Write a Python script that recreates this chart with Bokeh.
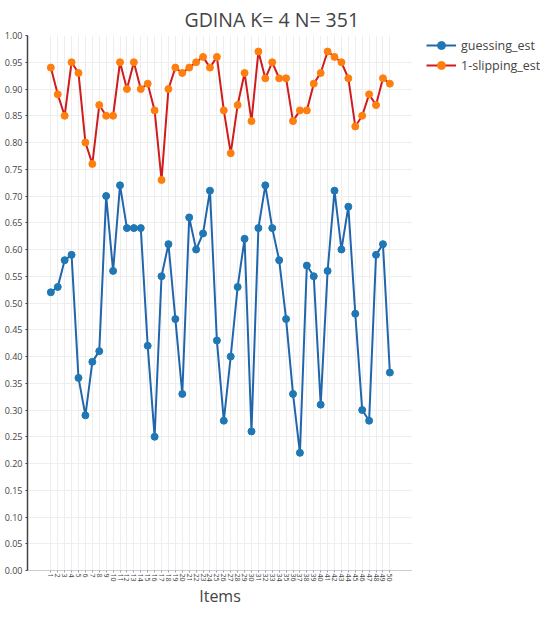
from math import pi
from bokeh.plotting import figure
from bokeh.layouts import row
from bokeh.models import Legend, LegendItem, FixedTicker, Range1d, ColumnDataSource
from bokeh.embed import file_html
from bokeh.resources import INLINE

items = list(range(1, 51))
item_labels = [str(i) for i in items]

guessing_est = [0.52, 0.53, 0.58, 0.59, 0.36, 0.29, 0.39, 0.41, 0.70, 0.56,
                0.72, 0.64, 0.64, 0.64, 0.42, 0.25, 0.55, 0.61, 0.47, 0.33,
                0.66, 0.60, 0.63, 0.71, 0.43, 0.28, 0.40, 0.53, 0.62, 0.26,
                0.64, 0.72, 0.64, 0.58, 0.47, 0.33, 0.22, 0.57, 0.55, 0.31,
                0.56, 0.71, 0.60, 0.68, 0.48, 0.30, 0.28, 0.59, 0.61, 0.37]

one_minus_slipping_est = [0.94, 0.89, 0.85, 0.95, 0.93, 0.80, 0.76, 0.87, 0.85, 0.85,
                          0.95, 0.90, 0.95, 0.90, 0.91, 0.86, 0.73, 0.90, 0.94, 0.93,
                          0.94, 0.95, 0.96, 0.94, 0.96, 0.86, 0.78, 0.87, 0.93, 0.84,
                          0.97, 0.92, 0.95, 0.92, 0.92, 0.84, 0.86, 0.86, 0.91, 0.93,
                          0.97, 0.96, 0.95, 0.92, 0.83, 0.85, 0.89, 0.87, 0.92, 0.91]

y_ticks = [0.0, 0.05, 0.10, 0.15, 0.20, 0.25, 0.30, 0.35, 0.40, 0.45, 0.50,
           0.55, 0.60, 0.65, 0.70, 0.75, 0.80, 0.85, 0.90, 0.95, 1.0]

title_text = "GDINA K= 4 N= 351"
x_title = "Items"
series_names = ["guessing_est", "1-slipping_est"]

FONT = "Open Sans"
G_LINE, G_MARK = "#2166ac", "#1f77b4"
S_LINE, S_MARK = "#d01c1c", "#ff7f0e"

src = ColumnDataSource(dict(x=items, g=guessing_est, s=one_minus_slipping_est))

H = 609
p = figure(width=412, height=H, output_backend="svg", toolbar_location=None,
           x_range=Range1d(-2.37, 53.27), y_range=Range1d(0, 1.0),
           min_border_left=27, min_border_right=0, min_border_top=26,
           min_border_bottom=37)

p.outline_line_color = None
p.background_fill_color = "white"

# title
p.title.text = title_text
p.title.align = "left"
p.title.offset = 157
p.title.text_font = FONT
p.title.text_font_size = "19.5px"
p.title.text_font_style = "normal"
p.title.text_color = "#444444"
p.title.text_line_height = 1.0
p.title.standoff = 6

# grids
p.xgrid.ticker = FixedTicker(ticks=items)
p.ygrid.ticker = FixedTicker(ticks=y_ticks)
p.xgrid.grid_line_color = "#eeeeee"
p.ygrid.grid_line_color = "#eeeeee"

# axes
p.xaxis.ticker = FixedTicker(ticks=items)
p.xaxis.major_label_overrides = {i: l for i, l in zip(items, item_labels)}
p.xaxis.major_label_orientation = -pi / 2
p.xaxis.major_label_text_font = FONT
p.xaxis.major_label_text_font_size = "7px"
p.xaxis.major_label_text_color = "#444444"
p.xaxis.major_label_standoff = 1
p.xaxis.axis_line_color = "#cccccc"
p.xaxis.major_tick_line_color = "#9999cc"
p.xaxis.major_tick_out = 2
p.xaxis.major_tick_in = 0
p.xaxis.minor_tick_line_color = None
p.xaxis.axis_label = x_title
p.xaxis.axis_label_text_font = FONT
p.xaxis.axis_label_text_font_size = "16px"
p.xaxis.axis_label_text_font_style = "normal"
p.xaxis.axis_label_text_color = "#444444"
p.xaxis.axis_label_standoff = 0
p.xaxis.axis_label_text_line_height = 0.8

p.yaxis.ticker = FixedTicker(ticks=y_ticks)
p.yaxis.major_label_overrides = {t: f"{t:.2f}" for t in y_ticks}
p.yaxis.major_label_text_font = FONT
p.yaxis.major_label_text_font_size = "9px"
p.yaxis.major_label_text_color = "#444444"
p.yaxis.major_label_standoff = 3
p.yaxis.axis_line_color = "#444444"
p.yaxis.axis_line_width = 1.5
p.yaxis.major_tick_line_color = "#444444"
p.yaxis.major_tick_out = 2
p.yaxis.major_tick_in = 0
p.yaxis.minor_tick_line_color = None

# series
p.line("x", "g", source=src, line_color=G_LINE, line_width=2)
p.scatter("x", "g", source=src, size=7, fill_color=G_MARK, line_color=G_MARK)
p.line("x", "s", source=src, line_color=S_LINE, line_width=2)
p.scatter("x", "s", source=src, size=7, fill_color=S_MARK, line_color=S_MARK)

# legend panel (separate narrow figure to the right; its ranges keep the
# series themselves out of view so that only the legend shows)
lp = figure(width=128, height=H, output_backend="svg", toolbar_location=None,
            x_range=Range1d(100, 101), y_range=Range1d(100, 101),
            min_border_left=14, min_border_right=0,
            min_border_top=0, min_border_bottom=0)
lp.axis.visible = False
lp.grid.visible = False
lp.outline_line_color = None
lg_line = lp.line("x", "g", source=src, line_color=G_LINE, line_width=2)
lg_pts = lp.scatter("x", "g", source=src, size=7, fill_color=G_MARK, line_color=G_MARK)
ls_line = lp.line("x", "s", source=src, line_color=S_LINE, line_width=2)
ls_pts = lp.scatter("x", "s", source=src, size=7, fill_color=S_MARK, line_color=S_MARK)

legend = Legend(items=[LegendItem(label=series_names[0], renderers=[lg_line, lg_pts]),
                       LegendItem(label=series_names[1], renderers=[ls_line, ls_pts])],
                location="top_left")
legend.padding = 6
legend.margin = 0
legend.spacing = 0
legend.glyph_width = 30
legend.glyph_height = 20
legend.label_height = 20
legend.label_standoff = 5
legend.label_text_font = FONT
legend.label_text_font_size = "12.5px"
legend.label_text_color = "#444444"
legend.border_line_color = None
legend.background_fill_alpha = 0
lp.add_layout(legend, "center")

layout = row(p, lp, spacing=0)
open("out.html", "w").write(file_html(layout, INLINE))
